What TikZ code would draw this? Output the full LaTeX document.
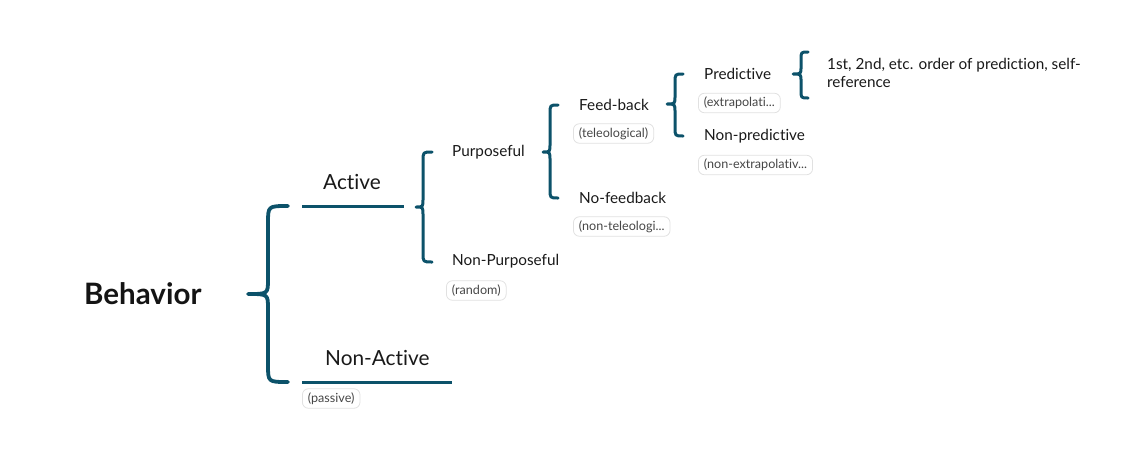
\documentclass[tikz,border=0pt]{standalone}
\usepackage{fontspec}
\setmainfont{Lato}[Ligatures={NoCommon}]
\definecolor{teal1}{RGB}{12,82,106}
\definecolor{pilltext}{RGB}{70,70,70}
\definecolor{pillline}{RGB}{225,225,225}
% xtip xv xend ytop ymid ybot rend rtip
\newcommand\mybrace[8]{%
  \draw[bracestyle] (#3,#4) .. controls (#2,#4) .. (#2,#4+#7) -- (#2,#5-#8)
    .. controls (#2,#5) .. (#1,#5) .. controls (#2,#5) .. (#2,#5+#8)
    -- (#2,#6-#7) .. controls (#2,#6) .. (#3,#6);}
\begin{document}
\begin{tikzpicture}[x=1pt,y=-1pt,
  bracestyle/.style={draw=teal1,line width=3pt,line cap=round,line join=round},
  underline/.style={draw=teal1,line width=3pt},
  lbl/.style={anchor=west,inner sep=0pt,font=\fontsize{15.3}{18}\selectfont,text=black!90},
  big/.style={anchor=west,inner sep=0pt,font=\fontsize{20.8}{24}\selectfont,text=black!90},
  pill/.style={anchor=west,draw=pillline,line width=0.8pt,rounded corners=6pt,inner xsep=5.5pt,inner ysep=0pt,minimum height=19.5pt,font=\fontsize{12.6}{14}\selectfont,text=pilltext}]
\useasboundingbox (0,0) rectangle (1137,458);
% root
\node[anchor=west,inner sep=0pt,font=\fontsize{29.5}{32}\selectfont\bfseries,text=black!92] (beh) at (84,294) {Behavior};
\begin{scope}[bracestyle/.append style={line width=3.8pt}]
\mybrace{248}{268}{288}{206}{294}{382}{17}{15}
\end{scope}
% level 1
\node[big] (act) at (323,182) {Active};
\coordinate (actL) at (302,206);
\coordinate (actR) at (404,206);
\draw[underline] (actL) -- (actR);
\node[big] (nact) at (325,358) {Non-Active};
\coordinate (nactL) at (302,382);
\coordinate (nactR) at (452,382);
\draw[underline] (nactL) -- (nactR);
\node[pill] (pas) at (302,398.5) {(passive)};
% level 2
\mybrace{416}{423}{432}{152}{207}{262}{9}{8}
\node[lbl] (pur) at (452,152) {Purposeful};
\node[lbl] (npur) at (452,261) {Non-Purposeful};
\node[pill] (rnd) at (446,290.5) {(random)};
% level 3
\mybrace{543}{550}{558}{105}{152}{198}{9}{8}
\node[lbl] (fb) at (579,105) {Feed-back};
\node[pill] (tel) at (573,133.5) {(teleological)};
\node[lbl] (nfb) at (579,198) {No-feedback};
\node[pill] (ntel) at (573,226.5) {(non-teleologi...};
% level 4
\mybrace{667}{675}{683}{74}{104}{136}{9}{8}
\node[lbl] (pred) at (704,74) {Predictive};
\node[pill] (ext) at (698,103) {(extrapolati...};
\node[lbl] (npred) at (704,136) {Non-predictive};
\node[pill] (next) at (698,165) {(non-extrapolativ...};
% level 5
\mybrace{793}{801}{808}{52}{74}{98}{8}{7}
\node[anchor=north west,inner sep=0pt,align=left,font=\fontsize{15.3}{18.5}\selectfont,text=black!90] (ord) at (827,58) {1st, 2nd, etc. order of prediction, self-\\reference};
\end{tikzpicture}
\end{document}
